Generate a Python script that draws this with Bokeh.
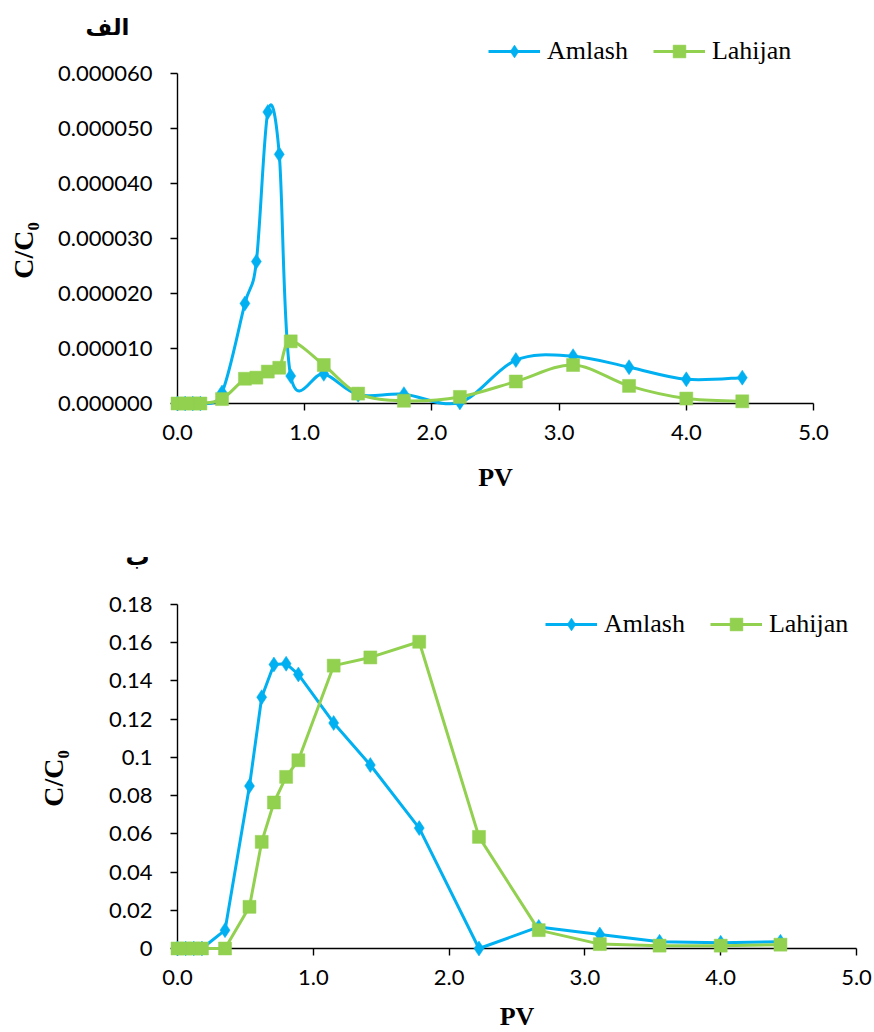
import math
from bokeh.plotting import figure
from bokeh.models import Legend, LegendItem, FixedTicker, CustomJSTickFormatter
from bokeh.layouts import column
from bokeh.embed import file_html
from bokeh.resources import INLINE
from bokeh.core.properties import value

# ---------------- data ----------------
pv = [0.0, 0.06, 0.12, 0.18, 0.35, 0.53, 0.62, 0.71, 0.80, 0.89, 1.15, 1.42,
      1.78, 2.22, 2.66, 3.11, 3.55, 4.00, 4.44]

# chart "الف"
amlash_a = [0.0, 0.0, 0.0, 0.0, 2.0e-6, 18.2e-6, 25.8e-6, 53.0e-6, 45.3e-6, 5.0e-6,
            5.4e-6, 1.6e-6, 1.7e-6, 0.2e-6, 7.9e-6, 8.6e-6, 6.6e-6, 4.4e-6, 4.7e-6]
lahijan_a = [0.0, 0.0, 0.0, 0.0, 0.8e-6, 4.5e-6, 4.7e-6, 5.8e-6, 6.5e-6, 11.3e-6,
             7.0e-6, 1.8e-6, 0.5e-6, 1.2e-6, 4.0e-6, 7.0e-6, 3.2e-6, 0.9e-6, 0.4e-6]

# chart "ب"
amlash_b = [0.0, 0.0, 0.0, 0.0, 0.0096, 0.085, 0.1315, 0.1486, 0.149, 0.1434,
            0.118, 0.096, 0.063, 0.0, 0.0113, 0.0073, 0.0035, 0.003, 0.0035]
lahijan_b = [0.0, 0.0, 0.0, 0.0, 0.0, 0.0218, 0.0558, 0.0764, 0.0898, 0.0985,
             0.148, 0.1523, 0.1605, 0.0584, 0.0096, 0.0023, 0.0015, 0.0015, 0.002]

x_ticks = [0, 1, 2, 3, 4, 5]
x_tick_labels = ["0.0", "1.0", "2.0", "3.0", "4.0", "5.0"]
ya_ticks = [0, 1e-5, 2e-5, 3e-5, 4e-5, 5e-5, 6e-5]
ya_tick_labels = ["0.000000", "0.000010", "0.000020", "0.000030",
                  "0.000040", "0.000050", "0.000060"]
yb_ticks = [0, 0.02, 0.04, 0.06, 0.08, 0.10, 0.12, 0.14, 0.16, 0.18]
yb_tick_labels = ["0", "0.02", "0.04", "0.06", "0.08", "0.1", "0.12",
                  "0.14", "0.16", "0.18"]

series_names = ["Amlash", "Lahijan"]
titles = ["الف", "ب"]
x_title = "PV"
y_title = "C/C\u2080"

BLUE = "#00B0F0"
GREEN = "#92D050"
TICK_FONT = "Lato"
SERIF = "Liberation Serif"
ARABIC = "DejaVu Sans"

fmt_code = """
let best = 0;
for (let i = 0; i < tk.length; i++) {
  if (Math.abs(tk[i] - tick) < Math.abs(tk[best] - tick)) best = i;
}
return lb[best];
"""


def make_fig(page_top, fig_h, fig_w, frame, axis_px, y_end, yticks, ylabels):
    # frame: (left, right, top, bottom) in page px; axis_px: px of x=0, x=5, y=0, y=y_end
    fl, fr, ft, fb = frame
    x0px, x5px, y0px, ytpx = axis_px
    ppx = (x5px - x0px) / 5.0
    ppy = (y0px - ytpx) / y_end
    fw = fr - fl
    fh = fb - ft
    bl = fl
    bt = ft - page_top
    p = figure(frame_width=fw, frame_height=fh,
               min_border_left=bl, min_border_right=fig_w - bl - fw,
               min_border_top=bt, min_border_bottom=fig_h - bt - fh,
               x_range=(0, fw / ppx), y_range=(0, fh / ppy),
               output_backend="svg", toolbar_location=None,
               background_fill_color="white", border_fill_color="white")
    p.outline_line_color = None
    p.grid.visible = False
    for ax in (p.xaxis[0], p.yaxis[0]):
        ax.axis_line_color = "black"
        ax.axis_line_width = 1.4
        ax.major_tick_line_color = "black"
        ax.major_tick_line_width = 1.4
        ax.major_tick_in = 0
        ax.major_tick_out = 7
        ax.minor_tick_line_color = None
        ax.major_label_text_font = TICK_FONT
        ax.major_label_text_font_size = "22px"
        ax.major_label_text_color = "black"
    p.xaxis[0].bounds = (0, 5)
    p.yaxis[0].bounds = (0, y_end)
    p.xaxis[0].ticker = FixedTicker(ticks=x_ticks, minor_ticks=[])
    p.yaxis[0].ticker = FixedTicker(ticks=yticks, minor_ticks=[])
    p.xaxis[0].formatter = CustomJSTickFormatter(
        args=dict(tk=x_ticks, lb=x_tick_labels), code=fmt_code)
    p.yaxis[0].formatter = CustomJSTickFormatter(
        args=dict(tk=yticks, lb=ylabels), code=fmt_code)
    p.xaxis[0].major_label_standoff = 14
    p.yaxis[0].major_label_standoff = 18
    return p


def smooth_segments(xs, ys):
    n = len(xs)
    out = dict(x0=[], y0=[], x1=[], y1=[], cx0=[], cy0=[], cx1=[], cy1=[])
    for i in range(n - 1):
        a = max(i - 1, 0)
        d = min(i + 2, n - 1)
        out["x0"].append(xs[i]); out["y0"].append(ys[i])
        out["x1"].append(xs[i + 1]); out["y1"].append(ys[i + 1])
        out["cx0"].append(xs[i] + (xs[i + 1] - xs[a]) / 6.0)
        out["cy0"].append(ys[i] + (ys[i + 1] - ys[a]) / 6.0)
        out["cx1"].append(xs[i + 1] - (xs[d] - xs[i]) / 6.0)
        out["cy1"].append(ys[i + 1] - (ys[d] - ys[i]) / 6.0)
    return out


def add_series(p, ya, yb, smooth, legend_loc):
    items = []
    for name, ys, color, marker, size in ((series_names[0], ya, BLUE, "diamond", 15),
                                          (series_names[1], yb, GREEN, "square", 13)):
        if smooth:
            lr = p.bezier(line_color=color, line_width=3, level="overlay",
                          **smooth_segments(pv, ys))
        else:
            lr = p.line(pv, ys, line_color=color, line_width=3, level="overlay")
        mr = p.scatter(pv, ys, marker=marker, size=size, fill_color=color,
                       line_color=color, line_width=0.5, level="overlay")
        items.append(LegendItem(label=name, renderers=[lr, mr]))
    lg = Legend(items=items, orientation="horizontal", location=legend_loc,
                glyph_width=52, glyph_height=32, label_standoff=7, spacing=25,
                padding=0, margin=0, border_line_color=None,
                background_fill_alpha=0, label_text_font=SERIF,
                label_text_font_size="26px", label_text_color="black")
    p.add_layout(lg)


def add_text(p, x, y, text, font, size, xo, yo, angle=0.0):
    p.text(x=[x], y=[y], text=[text], x_offset=xo, y_offset=yo, angle=angle,
           text_font=value(font), text_font_size=size, text_font_style="bold",
           text_align="center", text_baseline="middle", text_color="black",
           level="overlay")


# ---------------- chart الف ----------------
p1 = make_fig(0, 510, 874, (177, 850, 34, 403), (177, 813, 403, 73),
              6e-5, ya_ticks, ya_tick_labels)
add_series(p1, amlash_a, lahijan_a, True, (311, 336))
add_text(p1, 0, ya_ticks[-1], titles[0], ARABIC, "23px", -70, -47)
add_text(p1, 2.5, 0, x_title, SERIF, "26px", 0, 74)
add_text(p1, 0, ya_ticks[-1] / 2, y_title, SERIF, "28px", -154, 12, math.pi / 2)

# ---------------- chart ب ----------------
p2 = make_fig(510, 522, 874, (177, 872, 590, 948), (177, 856, 948, 604),
              0.18, yb_ticks, yb_tick_labels)
add_series(p2, amlash_b, lahijan_b, False, (368, 308))
add_text(p2, 0, yb_ticks[-1], titles[1], ARABIC, "24px", -40, -48)
add_text(p2, 2.5, 0, x_title, SERIF, "26px", 0, 68)
add_text(p2, 0, yb_ticks[-1] / 2, y_title, SERIF, "28px", -124, 2, math.pi / 2)

layout = column(p1, p2)
open("out.html", "w").write(file_html(layout, INLINE))
